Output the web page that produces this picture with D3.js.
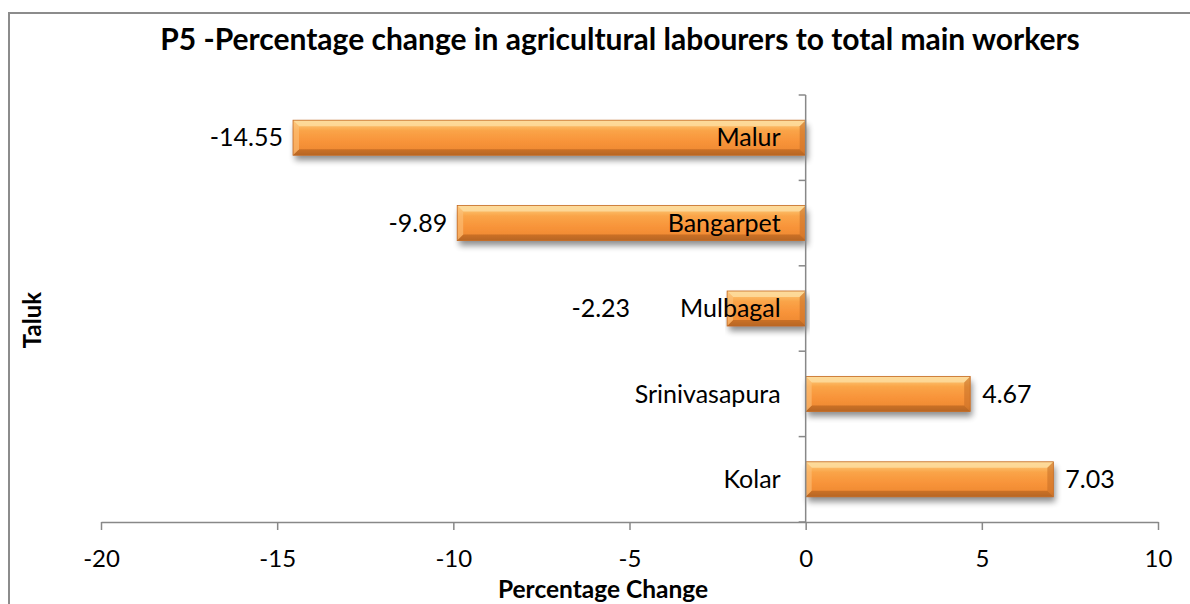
<!DOCTYPE html>
<html>
<head>
<meta charset="utf-8">
<script src="https://cdn.jsdelivr.net/npm/d3@7"></script>
<style>
  html, body { margin: 0; padding: 0; background: #fff; }
  svg { display: block; font-family: Lato, "Open Sans", sans-serif; }
</style>
</head>
<body>
<svg id="chart" width="1190" height="604"></svg>
<script>
// Taluks, top to bottom, and their percentage change values
const taluks = ["Malur", "Bangarpet", "Mulbagal", "Srinivasapura", "Kolar"];
const changes = [-14.55, -9.89, -2.23, 4.67, 7.03];
const xTicks = [-20, -15, -10, -5, 0, 5, 10];

const chartTitle = "P5 -Percentage change in agricultural labourers to total main workers";
const xTitle = "Percentage Change";
const yTitle = "Taluk";

const rows = taluks.map((t, i) => ({ taluk: t, value: changes[i] }));

const svg = d3.select("#chart");
const W = 1190, H = 604;
const plot = { left: 101, right: 1158, top: 95, bottom: 522 };

const x = d3.scaleLinear().domain([-20, 10]).range([plot.left, plot.right]);
const y = d3.scaleBand().domain(taluks).range([plot.top, plot.bottom])
  .paddingInner(0.59).paddingOuter(0.295);

// outer frame
svg.append("rect")
  .attr("x", 9).attr("y", 13).attr("width", W + 10).attr("height", H + 10)
  .attr("fill", "none").attr("stroke", "#8c8c8c").attr("stroke-width", 2);

// defs: bar gradient and soft shadow
const defs = svg.append("defs");
const grad = defs.append("linearGradient").attr("id", "barFill")
  .attr("x1", 0).attr("y1", 0).attr("x2", 0).attr("y2", 1);
[["0%", "#fcc878"], ["12%", "#fcc06c"], ["30%", "#faa448"], ["60%", "#f8943a"],
 ["85%", "#f08b33"], ["100%", "#c9752e"]].forEach(([o, c]) =>
  grad.append("stop").attr("offset", o).attr("stop-color", c));

const shadow = defs.append("filter").attr("id", "shadow")
  .attr("x", "-5%").attr("y", "-30%").attr("width", "110%").attr("height", "180%");
shadow.append("feGaussianBlur").attr("in", "SourceAlpha").attr("stdDeviation", 3).attr("result", "b");
shadow.append("feOffset").attr("in", "b").attr("dx", 2).attr("dy", 5).attr("result", "o");
shadow.append("feComponentTransfer").attr("in", "o").attr("result", "s")
  .append("feFuncA").attr("type", "linear").attr("slope", 0.45);
const merge = shadow.append("feMerge");
merge.append("feMergeNode").attr("in", "s");
merge.append("feMergeNode").attr("in", "SourceGraphic");

// bars
const bev = 6;
const barG = svg.append("g");
rows.forEach(d => {
  const x0 = Math.min(x(0), x(d.value)), x1 = Math.max(x(0), x(d.value));
  const y0 = y(d.taluk), h = y.bandwidth(), y1 = y0 + h;
  const g = barG.append("g");
  g.append("rect").attr("x", x0).attr("y", y0).attr("width", x1 - x0).attr("height", h)
    .attr("fill", "url(#barFill)").attr("filter", "url(#shadow)");
  // bevelled edges
  const poly = (pts, fill, op) => g.append("polygon")
    .attr("points", pts.map(p => p.join(",")).join(" "))
    .attr("fill", fill).attr("opacity", op);
  poly([[x0, y0], [x1, y0], [x1 - bev, y0 + bev], [x0 + bev, y0 + bev]], "#fde0a6", 0.75);
  poly([[x0, y1], [x1, y1], [x1 - bev, y1 - bev], [x0 + bev, y1 - bev]], "#a85a1c", 0.55);
  poly([[x0, y0], [x0 + bev, y0 + bev], [x0 + bev, y1 - bev], [x0, y1]], "#fbc27c", 0.6);
  poly([[x1, y0], [x1 - bev, y0 + bev], [x1 - bev, y1 - bev], [x1, y1]], "#c56d27", 0.55);
  g.append("rect").attr("x", x0).attr("y", y0).attr("width", x1 - x0).attr("height", h)
    .attr("fill", "none").attr("stroke", "#c46a22").attr("stroke-width", 0.8);
});

// axes
const axisColor = "#888888";
const xAxis = svg.append("g").attr("transform", `translate(0,${plot.bottom})`)
  .call(d3.axisBottom(x).tickValues(xTicks).tickSize(8).tickSizeOuter(0).tickFormat(d3.format("d")));
xAxis.select(".domain").attr("stroke", axisColor).attr("stroke-width", 1.5);
xAxis.selectAll(".tick line").attr("stroke", axisColor).attr("stroke-width", 1.5);
xAxis.selectAll(".tick text").attr("font-size", 24).attr("fill", "#000")
  .attr("font-family", "Lato, sans-serif").attr("y", 45).attr("dy", "0")
  .text(d => d < 0 ? "-" + Math.abs(d) : d);

// category axis with ticks at band boundaries
const yAxisG = svg.append("g");
yAxisG.append("line").attr("x1", x(0)).attr("x2", x(0))
  .attr("y1", plot.top).attr("y2", plot.bottom)
  .attr("stroke", axisColor).attr("stroke-width", 1.5);
const bounds = taluks.map(t => y(t) - y.step() * y.paddingInner() / 2).concat([plot.bottom]);
yAxisG.selectAll(".yt").data(bounds).join("line")
  .attr("x1", x(0) - 7).attr("x2", x(0)).attr("y1", d => d).attr("y2", d => d)
  .attr("stroke", axisColor).attr("stroke-width", 1.5);

// category labels next to the axis
const catLabels = svg.append("g").selectAll("text").data(rows).join("text")
  .attr("x", x(0) - 25).attr("y", d => y(d.taluk) + y.bandwidth() / 2)
  .attr("dy", "0.35em").attr("text-anchor", "end")
  .attr("font-size", 25).attr("fill", "#000").text(d => d.taluk);

// value labels at the bar ends, kept clear of the category labels
const catBoxes = catLabels.nodes().map(n => n.getBBox());
svg.append("g").selectAll("text").data(rows).join("text")
  .attr("y", d => y(d.taluk) + y.bandwidth() / 2)
  .attr("dy", "0.35em")
  .attr("text-anchor", d => d.value < 0 ? "end" : "start")
  .attr("x", (d, i) => {
    if (d.value >= 0) return x(d.value) + 12;
    const end = x(d.value) - 10;
    const left = catBoxes[i].x;
    return end > left ? left - 50 : end;
  })
  .attr("font-size", 25).attr("fill", "#000")
  .text(d => d.value.toFixed(2));

// titles
svg.append("text").attr("x", 620).attr("y", 50).attr("text-anchor", "middle")
  .attr("font-size", 30).attr("font-weight", "bold").attr("fill", "#000").text(chartTitle);
svg.append("text").attr("x", 603).attr("y", 598).attr("text-anchor", "middle")
  .attr("font-size", 24.5).attr("font-weight", "bold").attr("fill", "#000").text(xTitle);
svg.append("text").attr("transform", "translate(41,320) rotate(-90)").attr("text-anchor", "middle")
  .attr("font-size", 24).attr("font-weight", "bold").attr("fill", "#000").text(yTitle);
</script>
</body>
</html>
